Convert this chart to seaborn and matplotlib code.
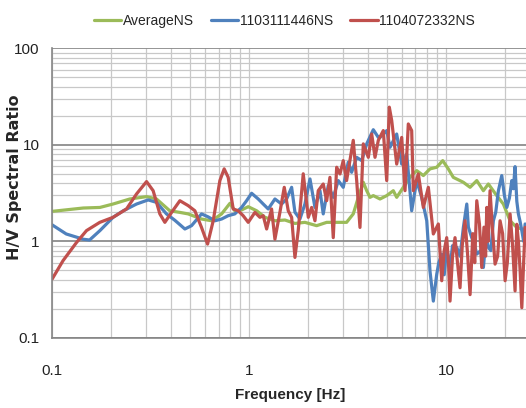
# H/V spectral ratio curves, log-log, Excel-like styling

import numpy as np
import pandas as pd
import matplotlib
matplotlib.use("Agg")
import matplotlib.pyplot as plt
from matplotlib.ticker import FixedLocator, LogLocator, NullFormatter
import seaborn as sns

# Data (frequency in Hz, H/V ratio)

avg_freq = [0.1, 0.144, 0.175, 0.204, 0.248, 0.302, 0.339, 0.396, 0.446, 0.491,
            0.574, 0.646, 0.726, 0.80, 0.847, 0.917, 0.991, 1.093, 1.205, 1.354,
            1.522, 1.711, 1.923, 2.205, 2.48, 2.897, 3.13, 3.384, 3.589, 3.805,
            3.96, 4.116, 4.277, 4.626, 5.003, 5.404, 5.623, 6.075, 6.57, 7.105,
            7.68, 8.30, 8.98, 9.63, 10.28, 10.9, 12.26, 13.26, 14.34, 15.49,
            16.42, 18.12, 19.57, 21.17, 22.89, 25.5]
avg_hv = [2.04, 2.21, 2.24, 2.43, 2.74, 2.90, 2.74, 2.07, 1.99, 1.92,
          1.70, 1.63, 1.92, 2.47, 2.07, 2.11, 2.28, 2.07, 1.77, 1.63,
          1.66, 1.53, 1.57, 1.45, 1.57, 1.57, 1.57, 1.92, 2.85, 4.08,
          3.34, 2.85, 2.97, 2.74, 2.97, 3.34, 2.85, 3.62, 4.59, 5.39,
          4.79, 5.62, 5.84, 6.84, 5.62, 4.59, 4.08, 3.62, 4.25, 3.34,
          3.92, 2.97, 2.43, 1.63, 1.39, 1.30]

ev1_freq = [0.1, 0.118, 0.144, 0.155, 0.175, 0.204, 0.230, 0.2685, 0.3075, 0.339,
            0.381, 0.420, 0.4724, 0.5108, 0.574, 0.620, 0.671, 0.726, 0.784, 0.847,
            0.917, 0.972, 1.031, 1.114, 1.181, 1.252, 1.354, 1.464, 1.552, 1.646,
            1.711, 1.814, 1.923, 2.04, 2.162, 2.293, 2.382, 2.526, 2.678, 2.840,
            3.01, 3.19, 3.32, 3.522, 3.734, 3.96, 4.277, 4.535, 4.626, 5.003,
            5.2, 5.623, 5.962, 6.321, 6.70, 7.105, 7.53, 7.99, 8.30, 8.63,
            8.98, 9.2, 9.52, 9.8, 10.09, 10.49, 10.8, 11.35, 11.8, 12.26,
            12.76, 13.0, 13.52, 14.0, 14.34, 15.0, 15.49, 16.0, 16.42, 16.9,
            17.41, 17.9, 18.47, 19.21, 19.8, 20.37, 21.0, 21.6, 22.0, 22.44,
            22.9, 23.33, 23.8, 24.28, 24.8, 25.24]
ev1_hv = [1.48, 1.19, 1.05, 1.03, 1.29, 1.77, 2.07, 2.43, 2.68, 2.53,
          1.92, 1.65, 1.34, 1.45, 1.92, 1.79, 1.63, 1.70, 1.84, 1.92,
          2.24, 2.63, 3.14, 2.74, 2.43, 2.16, 2.74, 2.43, 2.74, 3.62,
          2.0, 1.70, 2.43, 4.42, 2.24, 3.34, 1.92, 3.77, 2.85, 4.25,
          3.62, 6.58, 5.18, 7.4, 6.84, 10.2, 14.3, 11.9, 11.9, 14.0,
          9.4, 12.9, 6.3, 8.0, 2.07, 4.25, 2.85, 1.63, 0.49, 0.24,
          0.456, 0.6, 0.736, 0.45, 0.863, 0.535, 0.9, 0.863, 0.7, 1.39,
          2.43, 1.4, 1.09, 0.9, 0.736, 0.8, 0.535, 1.1, 0.863, 0.8,
          1.63, 2.0, 3.34, 4.79, 3.0, 2.24, 2.8, 4.25, 3.5, 5.93,
          2.6, 1.92, 1.6, 1.29, 1.0, 1.51]

ev2_freq = [0.1, 0.1137, 0.133, 0.1496, 0.1747, 0.204, 0.2388, 0.2685, 0.3018, 0.326,
            0.3526, 0.3738, 0.4044, 0.4456, 0.491, 0.531, 0.574, 0.616, 0.658, 0.7114,
            0.748, 0.784, 0.8313, 0.881, 0.934, 0.991, 1.0715, 1.136, 1.181, 1.229,
            1.302, 1.354, 1.435, 1.51, 1.582, 1.646, 1.711, 1.778, 1.885, 2.0,
            2.08, 2.162, 2.247, 2.382, 2.48, 2.576, 2.678, 2.787, 2.897, 3.01,
            3.13, 3.384, 3.522, 3.66, 3.805, 4.035, 4.198, 4.363, 4.535, 4.808,
            5.003, 5.157, 5.304, 5.623, 5.962, 6.197, 6.44, 6.70, 6.83, 7.24,
            7.68, 8.14, 8.63, 9.15, 9.52, 9.8, 10.09, 10.3, 10.49, 10.8,
            11.12, 11.45, 11.79, 12.1, 12.5, 12.9, 13.26, 13.7, 14.0, 14.34,
            14.8, 15.2, 15.6, 15.9, 16.12, 16.4, 16.75, 17.2, 17.76, 18.3,
            18.83, 19.4, 19.97, 20.5, 21.17, 21.8, 22.44, 22.9, 23.33, 23.8,
            24.28, 24.8, 25.24]
ev2_hv = [0.405, 0.63, 0.97, 1.29, 1.57, 1.77, 2.16, 3.09, 4.15, 3.34,
          1.92, 1.57, 1.99, 2.63, 2.34, 2.07, 1.39, 0.935, 1.63, 4.25,
          5.62, 4.59, 2.16, 2.07, 1.84, 1.57, 1.99, 1.77, 1.84, 1.34,
          2.16, 1.05, 1.99, 3.62, 2.07, 1.77, 0.68, 1.29, 5.0, 1.77,
          2.24, 1.63, 3.34, 3.92, 2.63, 4.59, 1.09, 5.84, 4.98, 6.84,
          4.25, 11.1, 4.25, 1.39, 10.2, 7.4, 12.9, 7.4, 11.1, 14.0,
          4.25, 24.5, 17.8, 6.3, 11.9, 3.34, 16.4, 14.0, 3.34, 4.98,
          2.24, 3.62, 1.19, 1.51, 0.39, 0.8, 1.09, 0.6, 0.24, 0.7,
          1.09, 0.6, 0.33, 0.9, 1.63, 0.7, 0.28, 1.2, 0.6, 2.63,
          1.5, 0.535, 1.4, 0.7, 2.24, 1.0, 3.34, 1.4, 0.58, 0.7,
          1.63, 1.2, 0.39, 0.6, 1.92, 0.9, 0.306, 1.5, 1.0, 0.5,
          0.205, 0.6, 1.39]

series_names = ["AverageNS", "1103111446NS", "1104072332NS"]
series_colors = ["#9BBB59", "#4F81BD", "#C0504D"]

df = pd.concat([
    pd.DataFrame({"freq": avg_freq, "hv": avg_hv, "series": series_names[0]}),
    pd.DataFrame({"freq": ev1_freq, "hv": ev1_hv, "series": series_names[1]}),
    pd.DataFrame({"freq": ev2_freq, "hv": ev2_hv, "series": series_names[2]}),
], ignore_index=True)

# Plot

sns.set_style("white")
plt.rcParams["font.family"] = ["Liberation Sans", "DejaVu Sans"]

fig, ax = plt.subplots(figsize=(5.26, 4.08), dpi=100)
fig.subplots_adjust(left=0.099, right=1.0, bottom=0.172, top=0.882)

sns.lineplot(data=df, x="freq", y="hv", hue="series", hue_order=series_names,
             palette=series_colors, estimator=None, sort=True, linewidth=2.3,
             ax=ax)

ax.set_xscale("log")
ax.set_yscale("log")
ax.set_xlim(0.1, 25.5)
ax.set_ylim(0.1, 100)

ax.xaxis.set_major_locator(FixedLocator([0.1, 1, 10]))
ax.set_xticklabels(["0.1", "1", "10"])
ax.yaxis.set_major_locator(FixedLocator([0.1, 1, 10, 100]))
ax.set_yticklabels(["0.1", "1", "10", "100"])
ax.xaxis.set_minor_locator(LogLocator(base=10, subs=np.arange(2, 10)))
ax.yaxis.set_minor_locator(LogLocator(base=10, subs=np.arange(2, 10)))
ax.xaxis.set_minor_formatter(NullFormatter())
ax.yaxis.set_minor_formatter(NullFormatter())

ax.grid(which="minor", color="#C8C8C8", linewidth=0.9)
ax.grid(which="major", axis="x", color="#C8C8C8", linewidth=0.9)
ax.grid(which="major", axis="y", color="#8C8C8C", linewidth=1.3)
ax.set_axisbelow(True)

for side in ["top", "right"]:
    ax.spines[side].set_visible(False)
for side in ["left", "bottom"]:
    ax.spines[side].set_color("#868686")
    ax.spines[side].set_linewidth(1.2)

ax.tick_params(axis="both", which="major", length=4, width=1, color="#868686",
               labelsize=11, labelcolor="#222222")
ax.tick_params(axis="x", which="major", pad=15)
ax.tick_params(axis="y", which="major", pad=5)
ax.tick_params(which="minor", length=0)

ax.set_xlabel("Frequency [Hz]", fontsize=11, fontweight="bold")
ax.xaxis.set_label_coords(0.502, -0.172)
ax.set_ylabel("H/V Spectral Ratio", fontsize=11.5, fontweight="bold",
              family="DejaVu Sans")
ax.yaxis.set_label_coords(-0.064, 0.555)

ax.legend(loc="center", bbox_to_anchor=(0.49, 1.095), ncol=3, frameon=False,
          fontsize=10, handlelength=2.0, handletextpad=0.12, columnspacing=1.2,
          borderaxespad=0)

plt.savefig("out.png", dpi=100)
